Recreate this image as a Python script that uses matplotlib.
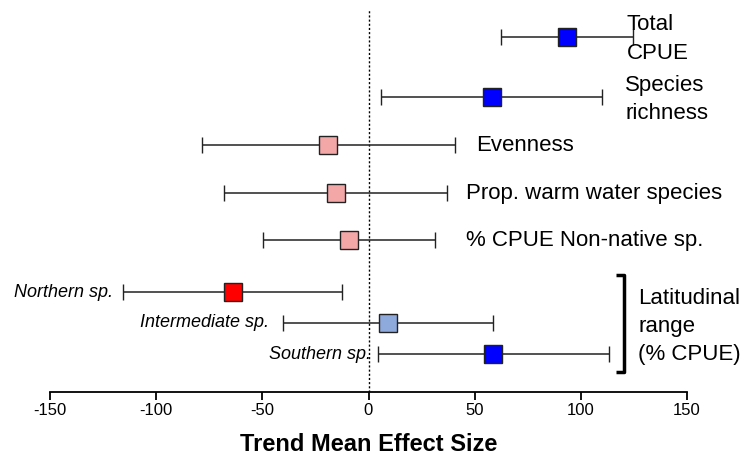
import matplotlib.pyplot as plt

plt.rcParams['font.family'] = ['Liberation Sans', 'DejaVu Sans']
plt.rcParams['axes.unicode_minus'] = False

# effect sizes with lower / upper interval ends
names = ['Total CPUE', 'Species richness', 'Evenness', 'Prop. warm water species',
         '% CPUE Non-native sp.', 'Northern sp.', 'Intermediate sp.', 'Southern sp.']
means = [93.4, 58.0, -19.2, -15.4, -9.3, -63.7, 9.2, 58.5]
lower = [62.5, 6.0, -78.3, -68.0, -49.5, -115.4, -40.2, 4.5]
upper = [124.5, 110.0, 40.9, 37.0, 31.2, -12.5, 58.7, 113.5]
ypos = [7.40, 6.15, 5.15, 4.15, 3.17, 2.08, 1.44, 0.79]
colors = ['#0000FF', '#0000FF', '#F4A7A7', '#F4A7A7', '#F4A7A7', '#FF0000', '#8EA9DB', '#0000FF']

fig = plt.figure(figsize=(7.44, 4.57), dpi=100)
ax = fig.add_axes([50 / 744, 65 / 457, 637 / 744, 382 / 457])

ax.axvline(0, color='black', linestyle=(0, (1.5, 1.5)), linewidth=1, zorder=1)

for m, lo, hi, y, c in zip(means, lower, upper, ypos, colors):
    ax.errorbar(m, y, xerr=[[m - lo], [hi - m]], fmt='s', color='#222222', ecolor='#222222',
                elinewidth=1.1, capsize=6, capthick=1.1, markersize=12.5,
                markerfacecolor=c, markeredgecolor='#222222', markeredgewidth=1, zorder=3)

# right hand labels
ax.text(121.5, 7.35, 'Total\nCPUE', fontsize=16, va='center', ha='left', linespacing=1.5)
ax.text(121.0, 6.10, 'Species\nrichness', fontsize=16, va='center', ha='left', linespacing=1.45)
ax.text(50.5, 5.13, 'Evenness', fontsize=16, va='center', ha='left')
ax.text(46.0, 4.13, 'Prop. warm water species', fontsize=16, va='center', ha='left')
ax.text(46.0, 3.15, '% CPUE Non-native sp.', fontsize=16, va='center', ha='left')

# left hand italic labels
ax.text(-120.5, 2.08, 'Northern sp.', fontsize=13, style='italic', va='center', ha='right')
ax.text(-47.0, 1.44, 'Intermediate sp.', fontsize=13, style='italic', va='center', ha='right')
ax.text(1.0, 0.79, 'Southern sp.', fontsize=13, style='italic', va='center', ha='right')

# bracket for latitudinal group
ax.plot([116.5, 120.3, 120.3, 116.5], [2.43, 2.43, 0.42, 0.42], color='black',
        linewidth=2.5, solid_capstyle='butt', clip_on=False)
ax.text(127.0, 1.37, 'Latitudinal\nrange\n(% CPUE)', fontsize=16, va='center', ha='left',
        linespacing=1.45)

ax.set_xlim(-150, 150)
ax.set_ylim(0, 7.96)
ax.set_xticks([-150, -100, -50, 0, 50, 100, 150])
ax.set_yticks([])
for s in ['top', 'right', 'left']:
    ax.spines[s].set_visible(False)
ax.spines['bottom'].set_linewidth(1.3)
ax.tick_params(axis='x', labelsize=12, length=6, width=1.3, pad=2)
ax.set_xlabel('Trend Mean Effect Size', fontsize=17, fontweight='bold', labelpad=11)

plt.savefig('out.png', dpi=100)
